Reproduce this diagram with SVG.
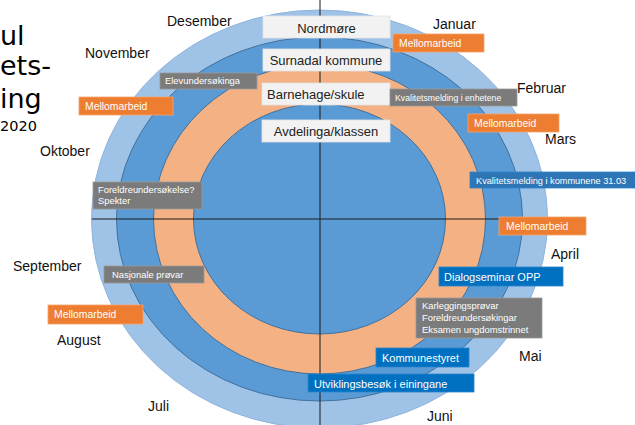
<svg xmlns="http://www.w3.org/2000/svg" width="635" height="425" viewBox="0 0 635 425">
<style>
.month{font-family:"Liberation Sans",Arial,sans-serif;font-size:14px;fill:#111}
.title{font-family:"DejaVu Sans","Liberation Sans",sans-serif;fill:#000}
.lvl rect{fill:#f2f2f2;stroke:#e4e4e4;stroke-width:0.8}
.lvl text{font-family:"Liberation Sans",Arial,sans-serif;font-size:13px;fill:#222}
.ev text{font-family:"Liberation Sans",Arial,sans-serif;fill:#fff}
.org rect{fill:#ed7d31;stroke:#f4a46c;stroke-width:0.8}
.org text{font-size:10.4px}
.gry rect{fill:#7b7b7b;stroke:#9a9a9a;stroke-width:0.8}
.gry text{font-size:9.4px}
.blu rect{fill:#0070c0;stroke:#2a86cc;stroke-width:0.8}
.blu text{font-size:11px}
.ring{stroke:#41719c;stroke-width:1}
.axis{stroke:#1a1a1a;stroke-width:1;fill:none}
</style>
<rect width="635" height="425" fill="#fff"/>
<g id="rings">
<ellipse cx="319.5" cy="219" rx="228" ry="209" fill="#9fc2e7" stroke="#8fb4dc" stroke-width="1"/>
<ellipse class="ring" cx="319.5" cy="219" rx="203" ry="182" fill="#5b9bd5"/>
<ellipse class="ring" cx="319.5" cy="219" rx="166" ry="155" fill="#f4b183"/>
<ellipse class="ring" cx="319.5" cy="219" rx="126" ry="115" fill="#5b9bd5"/>
</g>
<g id="connectors">
<line class="axis" x1="320" y1="0" x2="320" y2="425"/>
<line class="axis" x1="92" y1="219" x2="547" y2="219"/>
</g>
<g id="title" class="title">
<text x="0" y="45" font-size="27">ul</text>
<text x="0" y="75" font-size="27">ets-</text>
<text x="0" y="108" font-size="27">ing</text>
<text x="0" y="131" font-size="14.5">2020</text>
</g>
<g id="months" class="month">
<text x="167" y="26">Desember</text>
<text x="433" y="29">Januar</text>
<text x="85" y="58">November</text>
<text x="517" y="93">Februar</text>
<text x="545" y="144">Mars</text>
<text x="40" y="156">Oktober</text>
<text x="13" y="271">September</text>
<text x="551" y="259">April</text>
<text x="57" y="345">August</text>
<text x="148" y="411">Juli</text>
<text x="519" y="361">Mai</text>
<text x="427" y="421">Juni</text>
</g>
<g id="lvl-nordmore" class="lvl"><rect x="263" y="16" width="127" height="22"/><text x="326.5" y="33" text-anchor="middle">Nordmøre</text></g>
<g id="lvl-surnadal" class="lvl"><rect x="263" y="49" width="127" height="22"/><text x="326" y="65" text-anchor="middle">Surnadal kommune</text></g>
<g id="lvl-barnehage" class="lvl"><rect x="262" y="83" width="128" height="22"/><text x="267" y="99">Barnehage/skule</text></g>
<g id="lvl-avdelinga" class="lvl"><rect x="262" y="120" width="128" height="22"/><text x="326" y="136" text-anchor="middle">Avdelinga/klassen</text></g>
<g id="ev-mello-jan" class="ev org"><rect x="393" y="34" width="91" height="18"/><text x="399" y="47">Mellomarbeid</text></g>
<g id="ev-mello-nov" class="ev org"><rect x="79" y="97" width="94" height="18"/><text x="85" y="110">Mellomarbeid</text></g>
<g id="ev-mello-mars" class="ev org"><rect x="468" y="114" width="91" height="18"/><text x="474" y="127">Mellomarbeid</text></g>
<g id="ev-mello-april" class="ev org"><rect x="499" y="217" width="87" height="18"/><text x="506" y="230">Mellomarbeid</text></g>
<g id="ev-mello-aug" class="ev org"><rect x="48" y="305" width="95" height="19"/><text x="54" y="318">Mellomarbeid</text></g>
<g id="ev-elevund" class="ev gry"><rect x="160" y="73" width="97" height="16"/><text x="165" y="84">Elevundersøkinga</text></g>
<g id="ev-kval-enh" class="ev gry"><rect x="390" y="89" width="127" height="17"/><text x="395" y="101" style="font-size:8.7px">Kvalitetsmelding i enhetene</text></g>
<g id="ev-foreldre" class="ev gry"><rect x="93" y="182" width="109" height="27"/><text x="98" y="193">Foreldreundersøkelse?</text><text x="98" y="204">Spekter</text></g>
<g id="ev-nasjonale" class="ev gry"><rect x="104" y="266" width="100" height="17"/><text x="112" y="278">Nasjonale prøvar</text></g>
<g id="ev-kartlegging" class="ev gry"><rect x="416" y="298" width="126" height="40"/><text x="422" y="309">Karleggingsprøvar</text><text x="422" y="321">Foreldreundersøkingar</text><text x="422" y="333">Eksamen ungdomstrinnet</text></g>
<g id="ev-kval-komm" class="ev blu"><rect x="470" y="172" width="166" height="16" style="fill:#2e75b6"/><text x="476" y="184" style="font-size:9.2px">Kvalitetsmelding  i kommunene 31.03</text></g>
<g id="ev-dialog" class="ev blu"><rect x="439" y="267" width="124" height="19"/><text x="444" y="281">Dialogseminar OPP</text></g>
<g id="ev-kommunestyret" class="ev blu"><rect x="376" y="348" width="93" height="19"/><text x="382" y="362">Kommunestyret</text></g>
<g id="ev-utvikling" class="ev blu"><rect x="308" y="374" width="166" height="18"/><text x="314" y="388">Utviklingsbesøk i einingane</text></g>
</svg>
